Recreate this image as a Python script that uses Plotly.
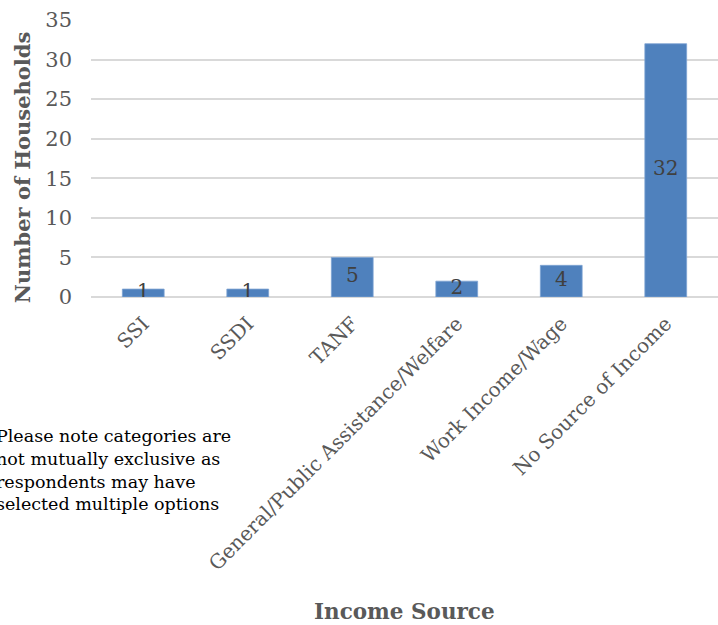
import plotly.graph_objects as go

categories = ["SSI", "SSDI", "TANF", "General/Public Assistance/Welfare", "Work Income/Wage", "No Source of Income"]
values = [1, 1, 5, 2, 4, 32]
y_ticks = [0, 5, 10, 15, 20, 25, 30, 35]

FONT = "DejaVu Serif"
GRAY = "#595959"

fig = go.Figure()
fig.add_trace(go.Bar(
    x=categories, y=values,
    marker=dict(color="#4f81bd", line=dict(color="#7ea3d3", width=0.8)),
    width=0.4, hoverinfo="skip", showlegend=False,
))
fig.add_trace(go.Scatter(
    x=categories, y=[v / 2 for v in values], mode="text",
    text=[str(v) for v in values], textposition="middle center",
    textfont=dict(family=FONT, size=20, color="#404040"),
    hoverinfo="skip", showlegend=False,
))

fig.update_layout(
    width=718, height=625,
    margin=dict(l=91, r=0, t=20, b=328, autoexpand=False),
    plot_bgcolor="white", paper_bgcolor="white",
    font=dict(family=FONT, color=GRAY),
    xaxis=dict(
        tickangle=-45, tickfont=dict(family=FONT, size=20, color=GRAY),
        showgrid=False, showline=False, ticks="", automargin=False,
        ticklabelstandoff=10,
    ),
    yaxis=dict(
        range=[0, 35], tickvals=y_ticks, tickfont=dict(family=FONT, size=21, color=GRAY),
        showgrid=True, gridcolor="#d9d9d9", gridwidth=1.5,
        zeroline=True, zerolinecolor="#d9d9d9", zerolinewidth=1.5,
        showline=False, ticks="", ticklabelstandoff=18, automargin=False,
    ),
    annotations=[
        dict(text="<b>Number of Households</b>", textangle=-90, xref="paper", yref="paper",
             x=(22 - 91) / 629, y=(297 - 167) / 277, xanchor="center", yanchor="middle", showarrow=False,
             font=dict(family=FONT, size=21, color=GRAY)),
        dict(text="<b>Income Source</b>", xref="paper", yref="paper",
             x=(405 - 91) / 629, y=-(611 - 297) / 277, xanchor="center", yanchor="middle",
             showarrow=False, font=dict(family=FONT, size=21.5, color=GRAY)),
        dict(text="Please note categories are<br>not mutually exclusive as<br>respondents may have<br>selected multiple options",
             xref="paper", yref="paper", x=(-6 - 91) / 629, y=-(424 - 297) / 277,
             xanchor="left", yanchor="top", align="left", showarrow=False,
             font=dict(family=FONT, size=17.5, color="#000000")),
    ],
)

fig.write_html("out.html", post_script="document.body.style.margin='0';",
               config={"displayModeBar": False})
